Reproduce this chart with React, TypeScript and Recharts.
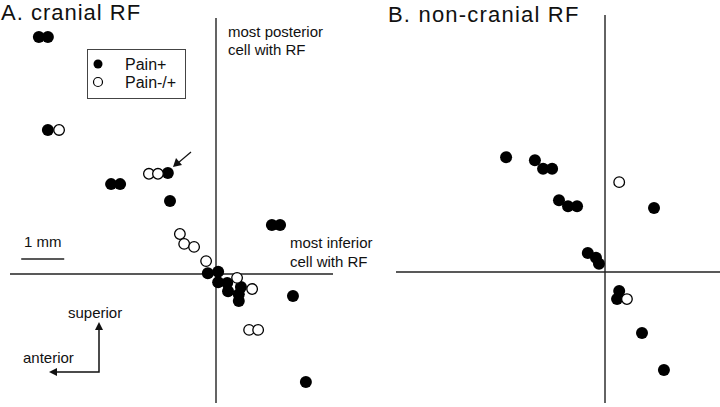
import React from "react"
import { ScatterChart, Scatter, XAxis, YAxis, ReferenceLine } from "recharts"

// positions in mm, relative to the most posterior / most inferior cell
const cranialPainPlus = [
  { x: -4.12, y: 5.51 }, { x: -3.91, y: 5.51 }, { x: -3.91, y: 3.35 },
  { x: -2.44, y: 2.09 }, { x: -2.23, y: 2.09 }, { x: -1.12, y: 2.35 },
  { x: -1.07, y: 1.7 }, { x: 1.3, y: 1.14 }, { x: 1.49, y: 1.14 },
  { x: -0.19, y: 0.02 }, { x: 0.05, y: 0.05 }, { x: 0.05, y: -0.19 },
  { x: 0.26, y: -0.21 }, { x: 0.28, y: -0.4 }, { x: 0.58, y: -0.3 },
  { x: 0.53, y: -0.47 }, { x: 0.53, y: -0.63 }, { x: 1.79, y: -0.51 },
  { x: 2.09, y: -2.51 },
]
const cranialPainMixed = [
  { x: -3.65, y: 3.35 }, { x: -1.56, y: 2.33 }, { x: -1.35, y: 2.33 },
  { x: -0.84, y: 0.93 }, { x: -0.74, y: 0.7 }, { x: -0.51, y: 0.63 },
  { x: -0.23, y: 0.3 }, { x: 0.49, y: -0.09 }, { x: 0.84, y: -0.35 },
  { x: 0.77, y: -1.3 }, { x: 0.98, y: -1.3 },
]
const nonCranialPainPlus = [
  { x: -2.3, y: 2.67 }, { x: -1.63, y: 2.6 }, { x: -1.44, y: 2.4 },
  { x: -1.23, y: 2.4 }, { x: -1.07, y: 1.67 }, { x: -0.86, y: 1.53 },
  { x: -0.65, y: 1.53 }, { x: 1.14, y: 1.49 }, { x: -0.4, y: 0.44 },
  { x: -0.21, y: 0.33 }, { x: -0.14, y: 0.19 }, { x: 0.33, y: -0.44 },
  { x: 0.28, y: -0.63 }, { x: 0.86, y: -1.42 }, { x: 1.37, y: -2.28 },
]
const nonCranialPainMixed = [
  { x: 0.33, y: 2.09 }, { x: 0.51, y: -0.63 },
]
const scaleBar = [{ x: -4.53, y: 0.35 }, { x: -3.53, y: 0.35 }]
const legendItems = ["Pain+", "Pain-/+"]

const font = "Arial, 'Liberation Sans', sans-serif"

const FilledDot = (props: any) => <circle cx={props.cx} cy={props.cy} r={6} fill="#000" />
const OpenDot = (props: any) => (
  <circle cx={props.cx} cy={props.cy} r={5.3} fill="#fff" stroke="#000" strokeWidth={1.3} />
)

export default function App() {
  return (
    <div style={{ position: "absolute", left: 0, top: 0, width: 720, height: 407, background: "#fff" }}>
      <div style={{ position: "absolute", left: 10, top: 18 }}>
        <ScatterChart width={323} height={385} margin={{ top: 0, right: 0, bottom: 0, left: 0 }}>
          <XAxis type="number" dataKey="x" domain={[-4.791, 2.721]} hide />
          <YAxis type="number" dataKey="y" domain={[-3.0, 5.953]} hide />
          <ReferenceLine x={0} stroke="#222" strokeWidth={1.4} />
          <ReferenceLine y={0} stroke="#222" strokeWidth={1.4} />
          <ReferenceLine segment={scaleBar} stroke="#222" strokeWidth={1.6} />
          <Scatter name="Pain+" data={cranialPainPlus} shape={FilledDot} isAnimationActive={false} />
          <Scatter name="Pain-/+" data={cranialPainMixed} shape={OpenDot} isAnimationActive={false} />
        </ScatterChart>
      </div>
      <div style={{ position: "absolute", left: 396, top: 15 }}>
        <ScatterChart width={324} height={388} margin={{ top: 0, right: 0, bottom: 0, left: 0 }}>
          <XAxis type="number" dataKey="x" domain={[-4.86, 2.674]} hide />
          <YAxis type="number" dataKey="y" domain={[-3.047, 5.977]} hide />
          <ReferenceLine x={0} stroke="#222" strokeWidth={1.4} />
          <ReferenceLine y={0} stroke="#222" strokeWidth={1.4} />
          <Scatter name="Pain+" data={nonCranialPainPlus} shape={FilledDot} isAnimationActive={false} />
          <Scatter name="Pain-/+" data={nonCranialPainMixed} shape={OpenDot} isAnimationActive={false} />
        </ScatterChart>
      </div>
      <svg
        width={720}
        height={407}
        style={{ position: "absolute", left: 0, top: 0, pointerEvents: "none" }}
        fontFamily={font}
        fill="#111"
      >
        <text x={1} y={20} fontSize={22} letterSpacing={1}>A. cranial RF</text>
        <text x={388} y={22} fontSize={22} letterSpacing={1.2}>B. non-cranial RF</text>
        <text x={228} y={37} fontSize={15}>most posterior</text>
        <text x={228} y={55} fontSize={15}>cell with RF</text>
        <text x={290} y={248} fontSize={15}>most inferior</text>
        <text x={290} y={267} fontSize={15}>cell with RF</text>
        <text x={24} y={247} fontSize={15}>1 mm</text>
        <text x={68} y={318} fontSize={15}>superior</text>
        <text x={23} y={363} fontSize={15}>anterior</text>
        {/* legend */}
        <rect x={87.5} y={49.5} width={98} height={49} fill="#fff" stroke="#444" strokeWidth={1} />
        <circle cx={98} cy={64} r={4.5} fill="#000" />
        <circle cx={98} cy={82} r={4.5} fill="#fff" stroke="#000" strokeWidth={1.2} />
        <text x={125} y={69.5} fontSize={16}>{legendItems[0]}</text>
        <text x={125} y={87.5} fontSize={16}>{legendItems[1]}</text>
        {/* orientation arrows */}
        <polyline points="99,329 99,372 56,372" fill="none" stroke="#111" strokeWidth={1.5} />
        <polygon points="99,322 95,330 103,330" fill="#111" />
        <polygon points="49,372 57,368 57,376" fill="#111" />
        {/* arrow marking the example cell */}
        <line x1={191} y1={152} x2={178} y2={163} stroke="#111" strokeWidth={1.2} />
        <polygon points="173,167 176,158 182,165" fill="#111" />
      </svg>
    </div>
  )
}
